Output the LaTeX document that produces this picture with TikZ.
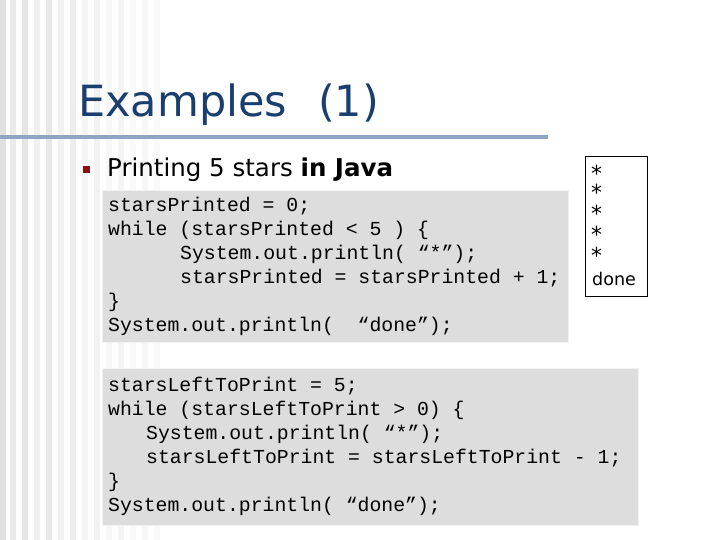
\documentclass[tikz,border=0pt]{standalone}
\usepackage{fontspec}
\setmainfont{DejaVu Sans}
\newfontfamily\codefont{Liberation Mono}
\definecolor{titleblue}{HTML}{1A3F6E}
\definecolor{rulecol}{HTML}{8EA6C2}
\definecolor{codebg}{HTML}{DDDDDD}
\definecolor{bulletred}{HTML}{8B1010}
\begin{document}
\begin{tikzpicture}[x=1pt,y=-1pt,
  code/.style={anchor=west,inner sep=0pt,font=\codefont\fontsize{19.8}{20}\selectfont},
  outtxt/.style={anchor=west,inner sep=0pt,font=\fontsize{17.5}{18}\selectfont}]
\useasboundingbox (0,0) rectangle (720,540);
\fill[white] (0,0) rectangle (720,540);
\foreach \x/\c in {0/88,10/92,22/90,34/94,46/91,58/95,70/93,82/96,94/95,106/97,118/96,130/98,142/97,154/98}
  \fill[black!\the\numexpr100-\c\relax] (\x,0) rectangle ++(6,540);
\node[anchor=base west,inner sep=0pt,text=titleblue,font=\fontsize{43}{43}\selectfont] (title) at (78,117) {Examples};
\node[anchor=base west,inner sep=0pt,text=titleblue,font=\fontsize{43}{43}\selectfont] (num) at (318,117) {(1)};
\draw[rulecol,line width=4pt] (0,137) -- (548,137);
\fill[bulletred] (83,166) rectangle (90,173) node (bul) {};
\node[anchor=base west,inner sep=0pt,font=\fontsize{24.5}{25}\selectfont] (bt) at (107,177) {Printing 5 stars \textbf{in Java}};
\node[draw=white!95!black,fill=codebg,line width=1pt,minimum width=466pt,minimum height=152pt,anchor=north west,inner sep=0pt] (c1) at (102,190) {};
\node[code] (a1) at (108,206) {starsPrinted = 0;};
\node[code] (a2) at (108,230) {while (starsPrinted < 5 ) \{};
\node[code] (a3) at (180,254) {System.out.println( “*”);};
\node[code] (a4) at (180,278) {starsPrinted = starsPrinted + 1;};
\node[code] (a5) at (108,302) {\}};
\node[code] (a6) at (108,326) {System.out.println(\ \ “done”);};
\node[draw=white!95!black,fill=codebg,line width=1pt,minimum width=536pt,minimum height=157pt,anchor=north west,inner sep=0pt] (c2) at (102,368) {};
\node[code] (b1) at (108,386) {starsLeftToPrint = 5;};
\node[code] (b2) at (108,410) {while (starsLeftToPrint > 0) \{};
\node[code] (b3) at (146,434) {System.out.println( “*”);};
\node[code] (b4) at (146,458) {starsLeftToPrint = starsLeftToPrint - 1;};
\node[code] (b5) at (108,482) {\}};
\node[code] (b6) at (108,506) {System.out.println( “done”);};
\node[draw=black,fill=white,line width=0.8pt,minimum width=62pt,minimum height=140pt,anchor=north west,inner sep=0pt] (out) at (585,156) {};
\foreach \y [count=\i] in {173,192,213,234,255}
  \node[outtxt,font=\fontsize{22}{22}\selectfont] (s\i) at (591,\y) {*};
\node[outtxt] (dn) at (592,279) {done};
\end{tikzpicture}
\end{document}
